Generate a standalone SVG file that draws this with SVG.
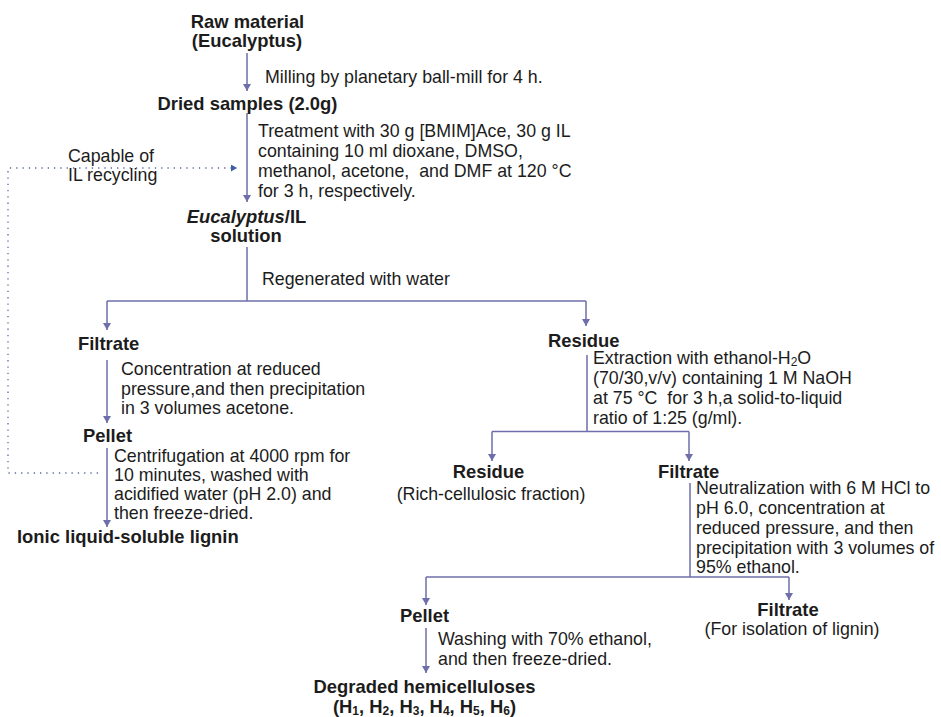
<svg xmlns="http://www.w3.org/2000/svg" width="941" height="717" viewBox="0 0 941 717">
<style>
  text { font-family: "Liberation Sans", Arial, sans-serif; fill: #1c1c1c; }
  .b { font-weight: bold; font-size: 18.4px; }
  .r { font-size: 17.8px; }
  .c { text-anchor: middle; }
  .ln { fill: none; stroke: #6e6eaa; stroke-width: 1.5; }
  .dot { fill: none; stroke: #5a6a9e; stroke-width: 1.3; stroke-dasharray: 1.3 5; }
  .sub { font-size: 12px; }
</style>
<defs>
  <marker id="ah" viewBox="0 -4 7 8" refX="7" refY="0" markerWidth="8" markerHeight="8" markerUnits="userSpaceOnUse" orient="auto">
    <path d="M0,-4 L7,0 L0,4 z" fill="#6e6eaa"/>
  </marker>
  <marker id="ahd" viewBox="0 -3.5 6 7" refX="6" refY="0" markerWidth="6" markerHeight="7" markerUnits="userSpaceOnUse" orient="auto">
    <path d="M0,-3.5 L6,0 L0,3.5 z" fill="#3b5fa6"/>
  </marker>
</defs>
<rect width="941" height="717" fill="#ffffff"/>

<g id="connectors">
  <path class="ln" d="M247,53 V91" marker-end="url(#ah)"/>
  <path class="ln" d="M247,113 V202" marker-end="url(#ah)"/>
  <path class="ln" d="M247,247 V301"/>
  <path class="ln" d="M107,301 H586"/>
  <path class="ln" d="M107,301 V330" marker-end="url(#ah)"/>
  <path class="ln" d="M586,301 V326" marker-end="url(#ah)"/>
  <path class="ln" d="M107,360 V423" marker-end="url(#ah)"/>
  <path class="ln" d="M107,448 V527" marker-end="url(#ah)"/>
  <path class="ln" d="M587,355 V431.5"/>
  <path class="ln" d="M492,431.5 H689"/>
  <path class="ln" d="M492,431.5 V461" marker-end="url(#ah)"/>
  <path class="ln" d="M689,431.5 V461" marker-end="url(#ah)"/>
  <path class="ln" d="M690,483 V577"/>
  <path class="ln" d="M426,577 H789"/>
  <path class="ln" d="M426,577 V605" marker-end="url(#ah)"/>
  <path class="ln" d="M789,577 V600" marker-end="url(#ah)"/>
  <path class="ln" d="M426,628 V673" marker-end="url(#ah)"/>
  <path class="dot" d="M98,473 H8 V168 H237" marker-end="url(#ahd)"/>
</g>

<g id="raw-material">
  <text class="b c" x="247.5" y="28">Raw material</text>
  <text class="b c" x="247" y="47">(Eucalyptus)</text>
</g>
<g id="milling-label">
  <text class="r" x="265" y="83">Milling by planetary ball-mill for 4 h.</text>
</g>
<g id="dried-samples">
  <text class="b c" x="247.5" y="110">Dried samples (2.0g)</text>
</g>
<g id="treatment-label">
  <text class="r" x="258" y="137">Treatment with 30 g [BMIM]Ace, 30 g IL</text>
  <text class="r" x="258" y="157">containing 10 ml dioxane, DMSO,</text>
  <text class="r" x="258" y="177" xml:space="preserve">methanol, acetone,  and DMF at 120 °C</text>
  <text class="r" x="258" y="197">for 3 h, respectively.</text>
</g>
<g id="recycling-label">
  <text class="r" x="68" y="162">Capable of</text>
  <text class="r" x="68" y="181">IL recycling</text>
</g>
<g id="eucalyptus-il-solution">
  <text class="b c" x="246.5" y="223"><tspan font-style="italic">Eucalyptus</tspan>/IL</text>
  <text class="b c" x="246" y="242">solution</text>
</g>
<g id="regenerated-label">
  <text class="r" x="262" y="285">Regenerated with water</text>
</g>
<g id="filtrate-1">
  <text class="b" x="78" y="350">Filtrate</text>
</g>
<g id="concentration-label">
  <text class="r" x="121" y="375">Concentration at reduced</text>
  <text class="r" x="121" y="394.5">pressure,and then precipitation</text>
  <text class="r" x="121" y="414">in 3 volumes acetone.</text>
</g>
<g id="pellet-1">
  <text class="b" x="83" y="442">Pellet</text>
</g>
<g id="centrifugation-label">
  <text class="r" x="114" y="462">Centrifugation at 4000 rpm for</text>
  <text class="r" x="114" y="481">10 minutes, washed with</text>
  <text class="r" x="114" y="500">acidified water (pH 2.0) and</text>
  <text class="r" x="114" y="519">then freeze-dried.</text>
</g>
<g id="ionic-liquid-lignin">
  <text class="b" x="17" y="543">Ionic liquid-soluble lignin</text>
</g>
<g id="residue-1">
  <text class="b" x="548" y="347">Residue</text>
</g>
<g id="extraction-label">
  <text class="r" x="593" y="364">Extraction with ethanol-H<tspan class="sub" dy="2">2</tspan><tspan dy="-2">O</tspan></text>
  <text class="r" x="593" y="384">(70/30,v/v) containing 1 M NaOH</text>
  <text class="r" x="593" y="404" xml:space="preserve">at 75 °C  for 3 h,a solid-to-liquid</text>
  <text class="r" x="593" y="424">ratio of 1:25 (g/ml).</text>
</g>
<g id="residue-2">
  <text class="b c" x="488.5" y="478">Residue</text>
  <text class="r c" x="491" y="500">(Rich-cellulosic fraction)</text>
</g>
<g id="filtrate-2">
  <text class="b" x="658" y="478">Filtrate</text>
</g>
<g id="neutralization-label">
  <text class="r" x="696" y="494">Neutralization with 6 M HCl to</text>
  <text class="r" x="696" y="514">pH 6.0, concentration at</text>
  <text class="r" x="696" y="534">reduced pressure, and then</text>
  <text class="r" x="696" y="554">precipitation with 3 volumes of</text>
  <text class="r" x="696" y="573">95% ethanol.</text>
</g>
<g id="pellet-2">
  <text class="b" x="400" y="622">Pellet</text>
</g>
<g id="washing-label">
  <text class="r" x="438" y="645">Washing with 70% ethanol,</text>
  <text class="r" x="438" y="665">and then freeze-dried.</text>
</g>
<g id="filtrate-3">
  <text class="b c" x="788" y="616">Filtrate</text>
  <text class="r c" x="792" y="635">(For isolation of lignin)</text>
</g>
<g id="degraded-hemicelluloses">
  <text class="b c" x="424.5" y="693">Degraded hemicelluloses</text>
  <text class="b c" x="424.5" y="713">(H<tspan class="sub" dy="2">1</tspan><tspan dy="-2">, H</tspan><tspan class="sub" dy="2">2</tspan><tspan dy="-2">, H</tspan><tspan class="sub" dy="2">3</tspan><tspan dy="-2">, H</tspan><tspan class="sub" dy="2">4</tspan><tspan dy="-2">, H</tspan><tspan class="sub" dy="2">5</tspan><tspan dy="-2">, H</tspan><tspan class="sub" dy="2">6</tspan><tspan dy="-2">)</tspan></text>
</g>
</svg>
